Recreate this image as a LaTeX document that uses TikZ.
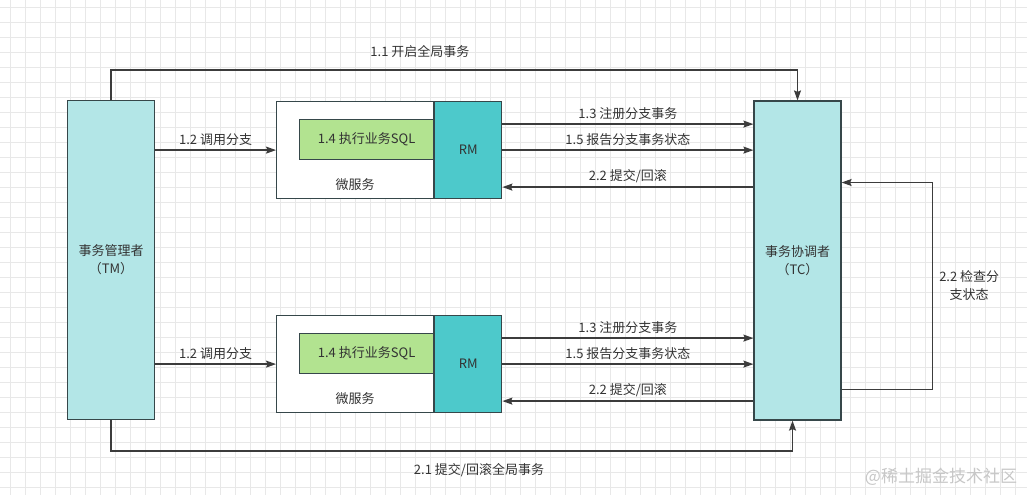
\documentclass[tikz,border=0pt]{standalone}
\usepackage{fontspec}
\setmainfont{Noto Sans CJK SC}
\usetikzlibrary{arrows.meta,calc,positioning}

\definecolor{boxline}{HTML}{36474A}
\definecolor{flowline}{HTML}{3C3C3C}
\definecolor{actorfill}{HTML}{B3E6E7}
\definecolor{rmfill}{HTML}{4DC9CB}
\definecolor{sqlfill}{HTML}{B2E390}
\definecolor{txt}{HTML}{333333}
\definecolor{gridgray}{HTML}{E8E8E8}

\tikzset{
  every node/.style={text=txt, font=\fontsize{13}{18}\selectfont},
  gridline/.style={draw=gridgray, line width=0.6pt},
  actor/.style={draw=boxline, fill=actorfill, line width=1.2pt, minimum width=87pt,
    minimum height=319pt, align=center, inner sep=0pt},
  svcbox/.style={draw=boxline, fill=white, line width=1.2pt, minimum width=157pt,
    minimum height=97pt, inner sep=0pt},
  rmbox/.style={draw=boxline, fill=rmfill, line width=1.2pt, minimum width=67pt,
    minimum height=97pt, inner sep=0pt},
  sqlbox/.style={draw=boxline, fill=sqlfill, line width=1.2pt, minimum width=134pt,
    minimum height=40pt, inner sep=0pt},
  flow/.style={draw=flowline, line width=1.3pt, -{Stealth[length=10pt,width=7pt,inset=1.5pt]}},
  lbl/.style={above, inner sep=4pt},
}

\begin{document}
\begin{tikzpicture}[x=1pt,y=-1pt]
  \useasboundingbox (0,0) rectangle (1027,495);
  \fill[white] (0,0) rectangle (1027,495);
  % background grid
  \foreach \gx in {10,25,...,1020} \draw[gridline] (\gx,0) -- (\gx,495);
  \foreach \gy in {7,22,...,490} \draw[gridline] (0,\gy) -- (1027,\gy);

  \node[actor] (tm) at (111,260) {事务管理者\\（TM）};
  \node[actor] (tc) at (797.5,260.5) {事务协调者\\（TC）};

  % two micro services
  \foreach \s/\y in {1/101,2/315}{
    \node[svcbox, anchor=north west] (svc\s) at (276,\y) {};
    \node[rmbox, anchor=north west] (rm\s) at (svc\s.north east) {RM};
    \node[sqlbox, anchor=north west] (sql\s) at ($(svc\s.north west)+(23,18)$) {1.4 执行业务SQL};
    \node (name\s) at ($(svc\s.north)+(0,84)$) {微服务};

    \coordinate (reg\s) at ($(rm\s.east)+(0,-26)$);
    \coordinate (ack\s) at ($(rm\s.east)+(0,37)$);

    \draw[flow] (tm.east |- svc\s.west) -- (svc\s.west) node[lbl, midway] {1.2 调用分支};
    \draw[flow] (reg\s) -- (reg\s -| tc.west) node[lbl, midway] {1.3 注册分支事务};
    \draw[flow] (rm\s.east) -- (rm\s.east -| tc.west) node[lbl, midway] {1.5 报告分支事务状态};
    \draw[flow] (ack\s -| tc.west) -- (ack\s) node[lbl, midway] {2.2 提交/回滚};
  }

  % global begin / commit
  \draw[flow] (tm.north) -- ++(0,-30) -| (tc.north)
    node[pos=0.225, above=8pt] {1.1 开启全局事务};
  \draw[flow] (tm.south) -- ++(0,31) -| ([xshift=-5pt]tc.south)
    node[pos=0.27, below=8pt] {2.1 提交/回滚全局事务};

  % check branch status
  \draw[flow] ($(tc.east)+(0,129)$) -- ++(91,0) -- ++(0,-207)
    node[midway, right, align=center, inner sep=6pt] {2.2 检查分\\支状态}
    -- ($(tc.east)+(0,-78)$);

  \node[text=black!22, font=\fontsize{17}{20}\selectfont] (mark) at (941,477) {@稀土掘金技术社区};
\end{tikzpicture}
\end{document}
